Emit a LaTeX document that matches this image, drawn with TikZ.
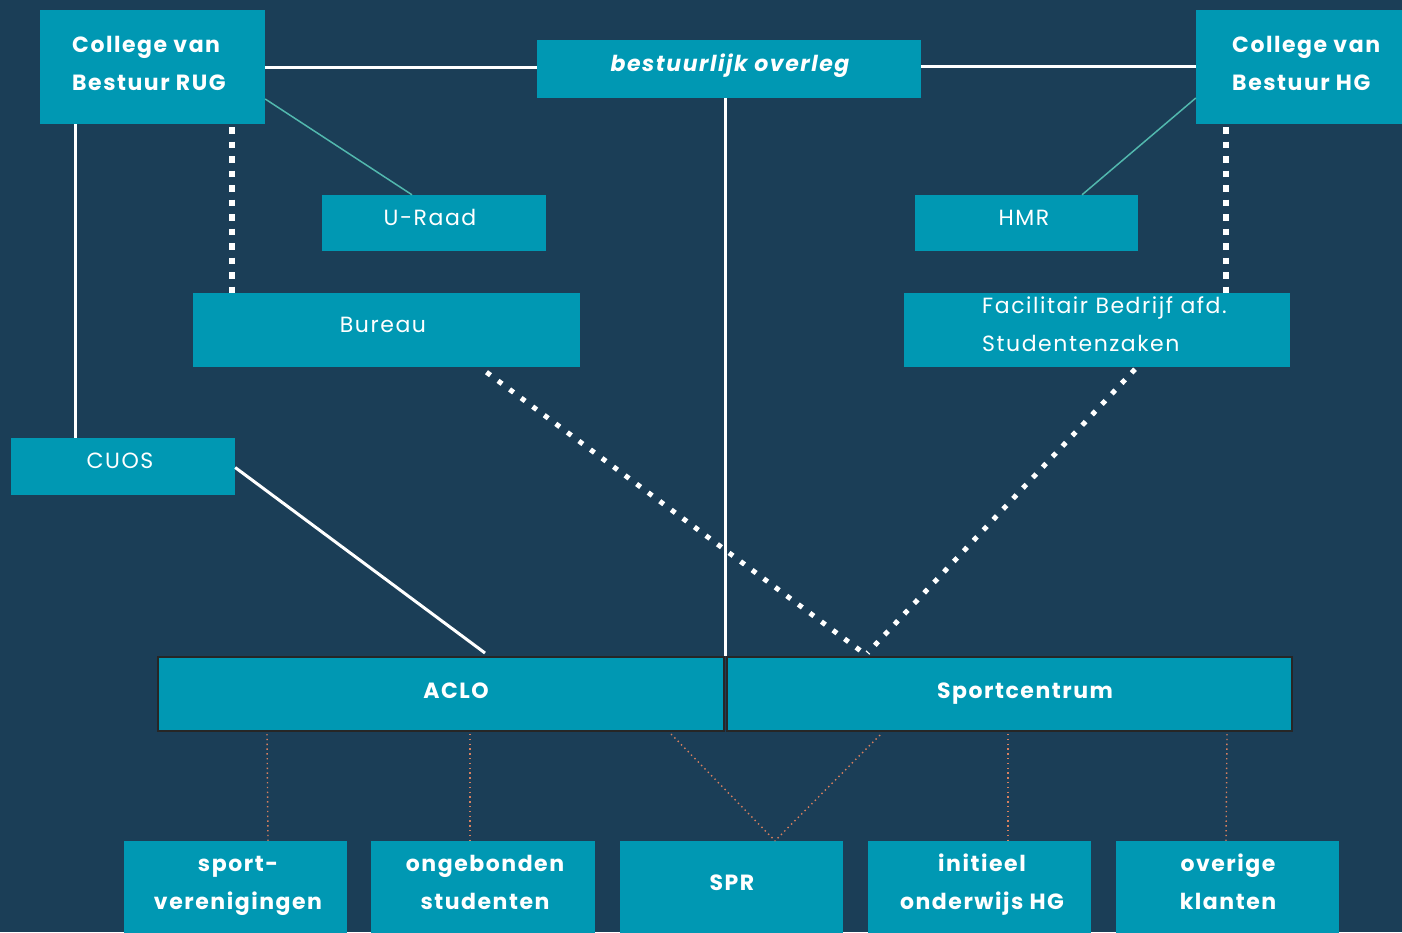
\documentclass[tikz,border=0pt]{standalone}
\usepackage{fontspec}
\setmainfont{Poppins}
\usetikzlibrary{calc}
\definecolor{bg}{HTML}{1B3E57}
\definecolor{boxc}{HTML}{0098B3}
\definecolor{tealline}{HTML}{52B8AE}
\definecolor{orangedot}{HTML}{D9805F}
\tikzset{
  box/.style={rectangle, fill=boxc, draw=none, inner sep=0pt},
  bigbox/.style={rectangle, fill=boxc, draw=black!85, line width=2pt, inner sep=0pt},
  btxt/.style={text=white, font=\fontsize{22}{22}\selectfont\bfseries\addfontfeatures{LetterSpace=7}, inner sep=0pt, text height=15.4pt, text depth=0pt},
  rtxt/.style={text=white, font=\fontsize{22}{22}\selectfont\addfontfeatures{LetterSpace=7}, inner sep=0pt, text height=15.4pt, text depth=0pt},
  solidw/.style={draw=white, line width=3pt},
  dotw/.style={draw=white, line width=6.5pt, dash pattern=on 6.5pt off 8pt},
  dotd/.style={draw=white, line width=5pt, dash pattern=on 5pt off 9.4pt},
  thinteal/.style={draw=tealline, line width=1.5pt},
  dotor/.style={draw=orangedot, line width=1.4pt, dash pattern=on 1.4pt off 3.4pt},
}
\begin{document}
\begin{tikzpicture}[x=1pt,y=-1pt]
\fill[bg] (0,0) rectangle (1402,932);
\useasboundingbox (0,0) rectangle (1402,932);
% boxes
\node[box, minimum width=225pt, minimum height=114pt] (rug) at (152.5,67) {};
\node[box, minimum width=384pt, minimum height=58pt] (overleg) at (729,69) {};
\node[box, minimum width=216pt, minimum height=114pt] (hg) at (1304,67) {};
\node[box, minimum width=224pt, minimum height=56pt] (uraad) at (434,223) {};
\node[box, minimum width=223pt, minimum height=56pt] (hmr) at (1026.5,223) {};
\node[box, minimum width=387pt, minimum height=74pt] (bureau) at (386.5,330) {};
\node[box, minimum width=386pt, minimum height=74pt] (fac) at (1097,330) {};
\node[box, minimum width=224pt, minimum height=57pt] (cuos) at (123,466.5) {};
\node[bigbox, minimum width=566pt, minimum height=74pt] (aclo) at (441,694) {};
\node[bigbox, minimum width=565pt, minimum height=74pt] (sport) at (1009.5,694) {};
\node[box, minimum width=223pt, minimum height=100pt] (sv) at (235.5,891) {};
\node[box, minimum width=224pt, minimum height=100pt] (ong) at (483,891) {};
\node[box, minimum width=223pt, minimum height=100pt] (spr) at (731.5,891) {};
\node[box, minimum width=223pt, minimum height=100pt] (ini) at (979.5,891) {};
\node[box, minimum width=223pt, minimum height=100pt] (ove) at (1227.5,891) {};
% texts
\node[btxt, anchor=west] (t1) at (72,45) {College van};
\node[btxt, anchor=west] (t2) at (72,83) {Bestuur RUG};
\node[btxt, font=\fontsize{22}{22}\selectfont\bfseries\itshape\addfontfeatures{LetterSpace=7}] (t3) at (730,64) {bestuurlijk overleg};
\node[btxt, anchor=west] (t4) at (1232,45) {College van};
\node[btxt, anchor=west] (t5) at (1232,83) {Bestuur HG};
\node[rtxt] (t6) at (430,218) {U-Raad};
\node[rtxt] (t7) at (1024,218) {HMR};
\node[rtxt] (t8) at (383,325) {Bureau};
\node[rtxt, anchor=west] (t9) at (982,306) {Facilitair Bedrijf afd.};
\node[rtxt, anchor=west] (t10) at (982,344) {Studentenzaken};
\node[rtxt] (t11) at (120,461) {CUOS};
\node[btxt] (t12) at (456,691) {ACLO};
\node[btxt] (t13) at (1025,691) {Sportcentrum};
\node[btxt] (t14) at (238,864) {sport-};
\node[btxt] (t15) at (238,902) {verenigingen};
\node[btxt] (t16) at (485,864) {ongebonden};
\node[btxt] (t17) at (485,902) {studenten};
\node[btxt] (t18) at (732,883) {SPR};
\node[btxt] (t19) at (982,864) {initieel};
\node[btxt] (t20) at (982,902) {onderwijs HG};
\node[btxt] (t21) at (1228,864) {overige};
\node[btxt] (t22) at (1228,902) {klanten};
% connectors
\draw[solidw] (rug.east) -- (overleg.west |- rug.east);
\draw[solidw] ([yshift=1pt]overleg.east |- hg.west) -- ([yshift=1pt]hg.west);
\draw[solidw] ([xshift=36pt]rug.south west) -- ([xshift=65pt]cuos.north west);
\draw[dotw] ([xshift=192pt,yshift=-3pt]rug.south west) -- ([xshift=39pt]bureau.north west);
\draw[dotw] ([xshift=30pt,yshift=-3pt]hg.south west) -- ([xshift=322pt]fac.north west);
\draw[thinteal] ([yshift=-32pt]rug.east) -- ([xshift=-22pt]uraad.north);
\draw[thinteal] ([yshift=-31pt]hg.west) -- ([xshift=55.5pt]hmr.north);
\draw[solidw] ([xshift=-4pt]overleg.south) -- (aclo.north east);
\draw[solidw] ([yshift=-1pt]cuos.east) -- ([xshift=44pt,yshift=3pt]aclo.north);
\draw[dotd] ([xshift=100pt,yshift=-5pt]bureau.south) -- ([xshift=-146pt,yshift=3pt]sport.north);
\draw[dotd] ([xshift=38pt,yshift=-2pt]fac.south) -- ([xshift=-142pt,yshift=3pt]sport.north);
\draw[dotor] ([xshift=110pt,yshift=-2pt]aclo.south west) -- (sv.north -| 268,0);
\draw[dotor] ([xshift=29pt,yshift=-2pt]aclo.south) -- (ong.north -| 470,0);
\draw[dotor] ([xshift=-54pt,yshift=-2pt]aclo.south east) -- ([xshift=43.5pt]spr.north);
\draw[dotor] ([xshift=-129.5pt,yshift=-3pt]sport.south) -- ([xshift=43.5pt]spr.north);
\draw[dotor] ([xshift=-1.5pt,yshift=-2pt]sport.south) -- (ini.north -| 1008,0);
\draw[dotor] ([xshift=-66pt,yshift=-2pt]sport.south east) -- (ove.north -| 1226,0);
\end{tikzpicture}
\end{document}
